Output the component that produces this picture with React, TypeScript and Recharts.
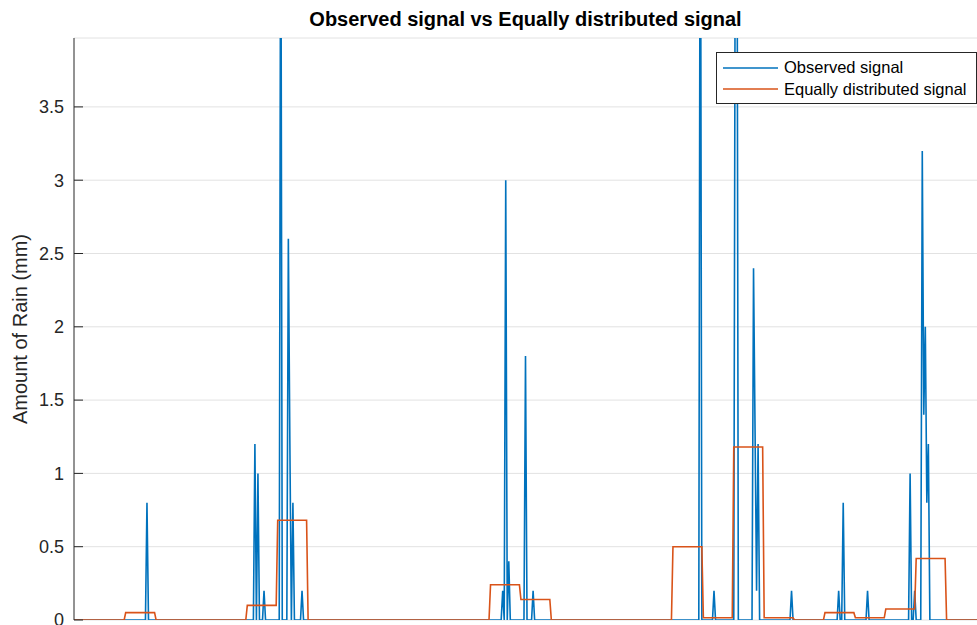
import { LineChart, Line, XAxis, YAxis, CartesianGrid, Legend } from "recharts";

// Sample index runs 0..600; every 20 samples form one distribution block.
const SAMPLE_COUNT = 601;
const BLOCK_SIZE = 20;

// Observed rain (mm): only the non-zero samples, every other sample is dry.
const obsIndex = [
  54, 125, 127, 131, 142, 147, 148, 150, 156,
  288, 290, 292, 303, 308,
  418, 427, 441, 442, 453, 454, 455, 456, 478,
  509, 512, 528, 556, 559, 564, 565, 566, 567, 568,
];
const obsValue = [
  0.8, 1.2, 1.0, 0.2, 5.5, 2.6, 1.2, 0.8, 0.2,
  0.2, 3.0, 0.4, 1.8, 0.2,
  6.0, 0.2, 5.0, 6.0, 2.4, 1.3, 0.2, 1.2, 0.2,
  0.2, 0.8, 0.2, 1.0, 0.2, 3.2, 1.4, 2.0, 0.8, 1.2,
];

// Equally distributed level (mm) for each block of 20 samples.
const equalLevels = [
  0, 0, 0.05, 0, 0, 0, 0.1, 0.68, 0, 0,
  0, 0, 0, 0, 0.24, 0.14, 0, 0, 0, 0,
  0.5, 0.015, 1.18, 0.015, 0, 0.05, 0.015, 0.075, 0.42, 0,
  0,
];

const yTicks = [0, 0.5, 1, 1.5, 2, 2.5, 3, 3.5];

const seriesKeys = ["observed", "equal"];
const seriesNames = ["Observed signal", "Equally distributed signal"];
const seriesColors = ["#0072BD", "#D95319"];

const obsMap = new Map<number, number>();
obsIndex.forEach((t, i) => obsMap.set(t, obsValue[i]));

const data = Array.from({ length: SAMPLE_COUNT }, (_, t) => ({
  t,
  observed: obsMap.get(t) ?? 0,
  equal: equalLevels[Math.floor(t / BLOCK_SIZE)],
}));

const FONT = '"Liberation Sans", Arial, Helvetica, sans-serif';
const AXIS_COLOR = "#262626";
const LINE_WIDTH = 1.6;

const RainAxisTitle = () => (
  <text
    x={27}
    y={329}
    transform="rotate(-90 27 329)"
    textAnchor="middle"
    fontSize={20}
    fontFamily={FONT}
    fill={AXIS_COLOR}
  >
    Amount of Rain (mm)
  </text>
);

const LegendBox = () => (
  <div
    style={{
      border: `1px solid ${AXIS_COLOR}`,
      background: "#fff",
      width: 259,
      height: 46,
      boxSizing: "content-box",
      fontFamily: FONT,
      fontSize: 16.5,
      color: "#000",
      paddingTop: 4,
    }}
  >
    {seriesNames.map((name, i) => (
      <div
        key={name}
        style={{ display: "flex", alignItems: "center", height: 21.5 }}
      >
        <svg width={67} height={10} style={{ display: "block" }}>
          <line
            x1={6}
            x2={61}
            y1={5}
            y2={5}
            stroke={seriesColors[i]}
            strokeWidth={1.5}
          />
        </svg>
        <span>{name}</span>
      </div>
    ))}
  </div>
);

export default function App() {
  return (
    <div
      style={{
        position: "absolute",
        left: 0,
        top: 0,
        width: 977,
        height: 625,
        overflow: "hidden",
        background: "#fff",
      }}
    >
      <div
        style={{
          position: "absolute",
          left: 74,
          top: 9,
          width: 903,
          textAlign: "center",
          fontFamily: FONT,
          fontWeight: "bold",
          fontSize: 20,
          lineHeight: "20px",
          color: "#000",
        }}
      >
        Observed signal vs Equally distributed signal
      </div>
      <LineChart
        width={977}
        height={625}
        data={data}
        margin={{ top: 38, right: 0, left: 0, bottom: 5 }}
      >
        <CartesianGrid vertical={false} stroke="#e2e2e2" />
        <XAxis
          dataKey="t"
          type="number"
          orientation="top"
          domain={[6, 600]}
          allowDataOverflow
          height={0}
          tick={false}
          tickLine={false}
          axisLine={{ stroke: AXIS_COLOR }}
        />
        <YAxis
          type="number"
          domain={[0, 3.97]}
          allowDataOverflow
          ticks={yTicks}
          interval={0}
          width={74}
          tickSize={-9}
          tickMargin={19}
          tickLine={{ stroke: AXIS_COLOR }}
          axisLine={{ stroke: AXIS_COLOR }}
          tick={{ fill: AXIS_COLOR, fontSize: 18, fontFamily: FONT }}
          label={<RainAxisTitle />}
        />
        <Legend
          layout="horizontal"
          verticalAlign="middle"
          align="center"
          wrapperStyle={{ left: 716, top: 52, width: 261, height: 52 }}
          content={<LegendBox />}
        />
        {seriesKeys.map((key, i) => (
          <Line
            key={key}
            name={seriesNames[i]}
            dataKey={key}
            type="linear"
            stroke={seriesColors[i]}
            strokeWidth={LINE_WIDTH}
            dot={false}
            activeDot={false}
            isAnimationActive={false}
          />
        ))}
      </LineChart>
    </div>
  );
}
